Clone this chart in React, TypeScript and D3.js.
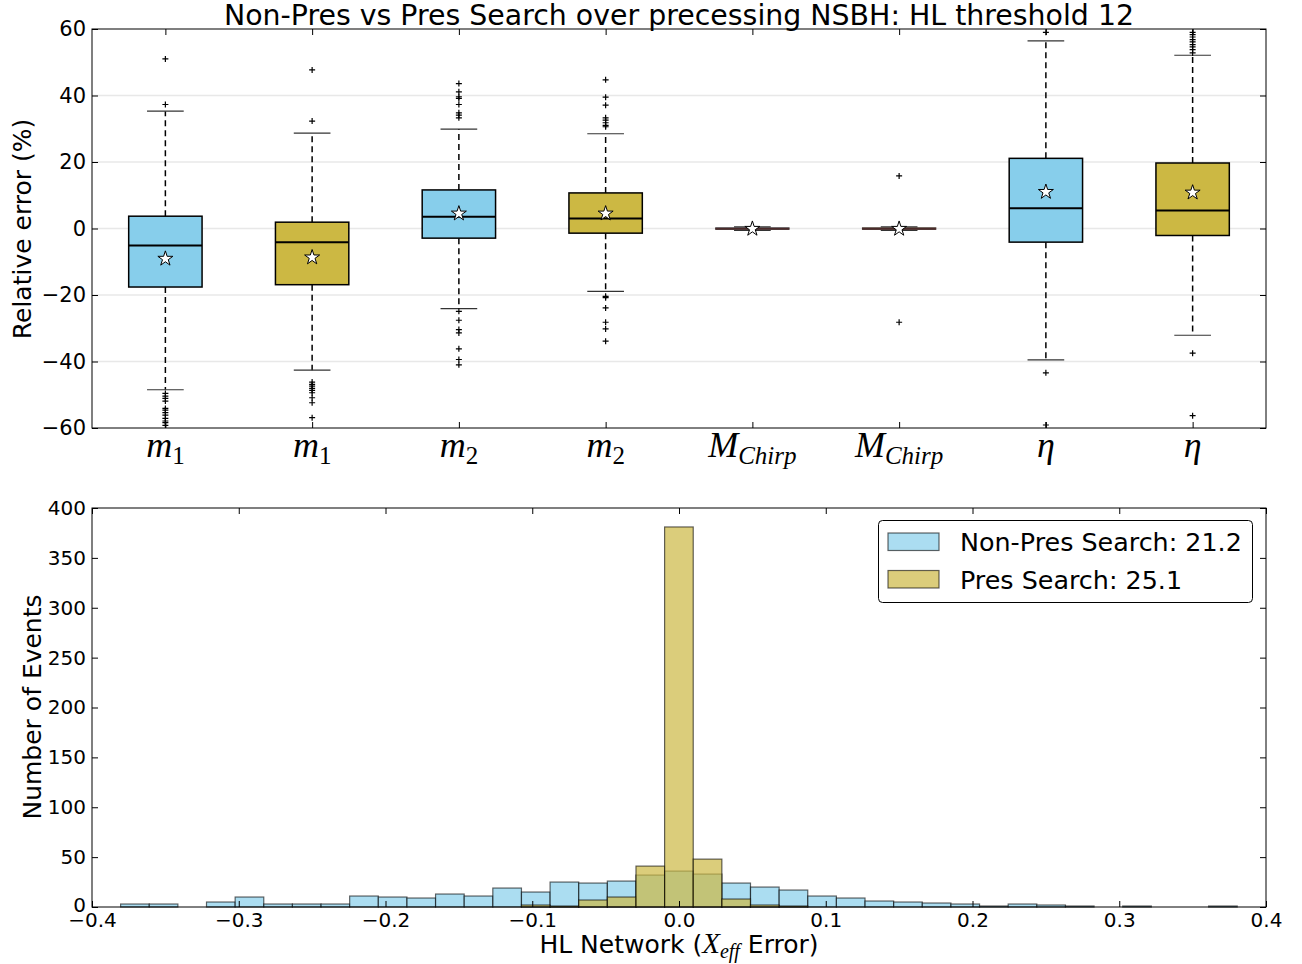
import React, { useEffect, useRef } from 'react'
import * as d3 from 'd3'

// box plot (relative error, %)
const boxLabelMain = ['m', 'm', 'm', 'm', 'M', 'M', 'η', 'η']
const boxLabelSub = ['1', '1', '2', '2', 'Chirp', 'Chirp', '', '']
const boxSearch = ['non', 'pres', 'non', 'pres', 'non', 'pres', 'non', 'pres']
const boxQ1 = [-17.6, -16.9, -2.9, -1.4, -0.25, -0.25, -4.1, -2.1]
const boxMedian = [-5.1, -4.1, 3.5, 3.0, -0.05, -0.05, 6.1, 5.4]
const boxQ3 = [3.7, 1.9, 11.6, 10.7, 0.2, 0.2, 21.1, 19.7]
const whiskerLow = [-48.5, -42.6, -24.1, -18.9, -0.6, -0.6, -39.5, -32.1]
const whiskerHigh = [35.3, 28.7, 29.9, 28.5, 0.5, 0.5, 56.4, 52.1]
const boxMean = [-9.1, -8.7, 4.5, 4.5, -0.1, -0.1, 11.0, 10.8]
const boxOutliers = [
  [51.0, 37.3, -49.6, -50.4, -51.1, -51.9, -54.1, -54.6, -55.4, -56.1, -57.1, -57.9, -58.4, -59.2],
  [47.7, 32.3, -46.2, -46.9, -47.4, -48.1, -48.7, -49.4, -50.9, -52.4, -56.9],
  [43.6, 41.1, 39.6, 39.1, 37.3, 34.8, 34.1, 33.3, -24.9, -27.6, -30.4, -31.4, -36.2, -39.4, -41.0],
  [44.7, 39.5, 37.1, 33.3, 32.6, 31.8, 31.0, 30.6, -20.4, -20.8, -23.9, -28.2, -30.2, -33.9],
  [],
  [15.8, -28.2],
  [59.0, -43.4, -59.1],
  [59.0, 58.3, 57.6, 56.8, 56.1, 55.3, 54.6, 53.8, 52.8, -37.5, -56.3],
]
const yTicksTop = [-60, -40, -20, 0, 20, 40, 60]
const gridTop = [-40, -20, 0, 20, 40]

// histogram of X_eff error
const histBinStart = -0.3805
const histBinWidth = 0.01951
const nonPresCounts = [3, 3, 0, 5, 10, 3, 3, 3, 11, 10, 9, 13, 11, 19, 15, 25, 24, 26, 32, 36,
  33, 24, 20, 17, 11, 9, 6, 5, 4, 3, 1, 3, 2, 1, 0, 1, 0, 0, 1]
const presCounts = [0, 0, 0, 0, 0, 0, 0, 0, 0, 0, 0, 0, 0, 0, 2, 1, 7, 10, 41, 381,
  48, 8, 2, 1, 0, 0, 0, 0, 0, 0, 0, 0, 0, 0, 0, 0, 0, 0, 0]
const legendLabels = ['Non-Pres Search: 21.2', 'Pres Search: 25.1']
const yTicksHist = [0, 50, 100, 150, 200, 250, 300, 350, 400]
const xTicksHist = [-0.4, -0.3, -0.2, -0.1, 0, 0.1, 0.2, 0.3, 0.4]

const colors = { non: '#87CEEB', pres: '#CCB843' }
const sans = '"DejaVu Sans", sans-serif'
const serif = '"Liberation Serif", serif'

const App = () => {
  const ref = useRef<SVGSVGElement>(null)

  useEffect(() => {
    const svg = d3.select(ref.current)
    svg.selectAll('*').remove()

    const left = 92
    const right = 1266

    // ---------- top: box plot ----------
    const top = { y0: 29, y1: 428 }
    const x = d3.scaleLinear().domain([0.5, 8.5]).range([left, right])
    const y = d3.scaleLinear().domain([-60, 60]).range([top.y1, top.y0])

    svg.append('defs').append('clipPath').attr('id', 'clipTop')
      .append('rect').attr('x', left).attr('y', top.y0)
      .attr('width', right - left).attr('height', top.y1 - top.y0)

    const gTop = svg.append('g')

    gTop.selectAll('.grid').data(gridTop).enter().append('line')
      .attr('x1', left).attr('x2', right)
      .attr('y1', d => y(d)).attr('y2', d => y(d))
      .attr('stroke', '#e8e8e8').attr('stroke-width', 1.5)

    const plot = gTop.append('g').attr('clip-path', 'url(#clipTop)')
    const half = x(1.25) - x(1)
    const capHalf = x(1.125) - x(1)

    boxQ1.forEach((q1, i) => {
      const cx = x(i + 1)
      const g = plot.append('g')
      g.append('line').attr('x1', cx).attr('x2', cx)
        .attr('y1', y(boxQ3[i])).attr('y2', y(whiskerHigh[i]))
        .attr('stroke', '#000').attr('stroke-width', 1.5).attr('stroke-dasharray', '6,4')
      g.append('line').attr('x1', cx).attr('x2', cx)
        .attr('y1', y(q1)).attr('y2', y(whiskerLow[i]))
        .attr('stroke', '#000').attr('stroke-width', 1.5).attr('stroke-dasharray', '6,4')
      ;[whiskerHigh[i], whiskerLow[i]].forEach(w => {
        g.append('line').attr('x1', cx - capHalf).attr('x2', cx + capHalf)
          .attr('y1', y(w)).attr('y2', y(w))
          .attr('stroke', '#333').attr('stroke-width', 1.2)
      })
      const flat = y(q1) - y(boxQ3[i]) < 3
      g.append('rect')
        .attr('x', cx - half).attr('width', half * 2)
        .attr('y', y(boxQ3[i])).attr('height', Math.max(0.5, y(q1) - y(boxQ3[i])))
        .attr('fill', colors[boxSearch[i]])
        .attr('stroke', flat ? '#3a2a2a' : '#000').attr('stroke-width', flat ? 1 : 1.5)
      g.append('line').attr('x1', cx - half).attr('x2', cx + half)
        .attr('y1', y(boxMedian[i])).attr('y2', y(boxMedian[i]))
        .attr('stroke', flat ? '#4a2a2a' : '#000').attr('stroke-width', flat ? 1.5 : 2)
      boxOutliers[i].forEach(o => {
        g.append('path')
          .attr('d', `M${cx - 3},${y(o)}H${cx + 3}M${cx},${y(o) - 3}V${y(o) + 3}`)
          .attr('stroke', '#000').attr('stroke-width', 1.2)
      })
      g.append('path')
        .attr('transform', `translate(${cx},${y(boxMean[i])})`)
        .attr('d', d3.symbol().type(d3.symbolStar).size(70)())
        .attr('fill', '#fff').attr('stroke', '#000').attr('stroke-width', 1)
    })

    const axTop = svg.append('g').attr('font-family', sans)
    axTop.append('g').attr('transform', `translate(${left},0)`)
      .call(d3.axisLeft(y).tickValues(yTicksTop).tickSizeInner(-6).tickSizeOuter(0).tickPadding(6))
      .call(g => g.select('.domain').remove())
      .call(g => g.selectAll('text').attr('font-size', 21).attr('fill', '#000').attr('font-family', sans))
    axTop.append('g').attr('transform', `translate(${right},0)`)
      .call(d3.axisRight(y).tickValues(yTicksTop).tickSizeInner(-6).tickSizeOuter(0).tickFormat(() => ''))
      .call(g => g.select('.domain').remove())
    axTop.append('g').attr('transform', `translate(0,${top.y1})`)
      .call(d3.axisBottom(x).tickValues(d3.range(1, 9)).tickSizeInner(-6).tickSizeOuter(0).tickFormat(() => ''))
      .call(g => g.select('.domain').remove())
    axTop.append('g').attr('transform', `translate(0,${top.y0})`)
      .call(d3.axisTop(x).tickValues(d3.range(1, 9)).tickSizeInner(-6).tickSizeOuter(0).tickFormat(() => ''))
      .call(g => g.select('.domain').remove())
    svg.append('rect').attr('x', left).attr('y', top.y0)
      .attr('width', right - left).attr('height', top.y1 - top.y0)
      .attr('fill', 'none').attr('stroke', '#000').attr('stroke-width', 1)

    boxLabelMain.forEach((m, i) => {
      const t = svg.append('text')
        .attr('x', x(i + 1)).attr('y', 457)
        .attr('text-anchor', 'middle')
        .attr('font-family', serif).attr('font-style', 'italic')
        .attr('font-size', 36)
      t.append('tspan').text(m)
      if (boxLabelSub[i]) {
        t.append('tspan').attr('dy', 7).attr('font-size', 25)
          .attr('font-style', boxLabelSub[i] === 'Chirp' ? 'italic' : 'normal')
          .text(boxLabelSub[i])
      }
    })

    svg.append('text').attr('x', 679).attr('y', 25)
      .attr('text-anchor', 'middle').attr('font-family', sans).attr('font-size', 28.4)
      .text('Non-Pres vs Pres Search over precessing NSBH: HL threshold 12')

    svg.append('text').attr('transform', 'translate(31,229) rotate(-90)')
      .attr('text-anchor', 'middle').attr('font-family', sans).attr('font-size', 25)
      .text('Relative error (%)')

    // ---------- bottom: histogram ----------
    const bot = { y0: 508, y1: 907 }
    const xh = d3.scaleLinear().domain([-0.4, 0.4]).range([left, right])
    const yh = d3.scaleLinear().domain([0, 400]).range([bot.y1, bot.y0])

    const drawHist = (counts: number[], color: string) => {
      svg.append('g').selectAll('rect')
        .data(counts.map((c, i) => ({ c, x0: histBinStart + i * histBinWidth })).filter(d => d.c > 0))
        .enter().append('rect')
        .attr('x', d => xh(d.x0)).attr('width', d => xh(d.x0 + histBinWidth) - xh(d.x0))
        .attr('y', d => yh(d.c)).attr('height', d => yh(0) - yh(d.c))
        .attr('fill', color).attr('fill-opacity', 0.7)
        .attr('stroke', '#000').attr('stroke-opacity', 0.6).attr('stroke-width', 1.2)
    }
    drawHist(nonPresCounts, colors.non)
    drawHist(presCounts, colors.pres)

    const axBot = svg.append('g')
    axBot.append('g').attr('transform', `translate(${left},0)`)
      .call(d3.axisLeft(yh).tickValues(yTicksHist).tickSizeInner(-6).tickSizeOuter(0).tickPadding(6))
      .call(g => g.select('.domain').remove())
      .call(g => g.selectAll('text').attr('font-size', 20).attr('fill', '#000').attr('font-family', sans))
      .call(g => g.selectAll('text').filter(d => d === 0).attr('dy', '0.2em'))
    axBot.append('g').attr('transform', `translate(${right},0)`)
      .call(d3.axisRight(yh).tickValues(yTicksHist).tickSizeInner(-6).tickSizeOuter(0).tickFormat(() => ''))
      .call(g => g.select('.domain').remove())
    axBot.append('g').attr('transform', `translate(0,${bot.y1})`)
      .call(d3.axisBottom(xh).tickValues(xTicksHist).tickSizeInner(-6).tickSizeOuter(0).tickPadding(6)
        .tickFormat(d3.format('.1f')))
      .call(g => g.select('.domain').remove())
      .call(g => g.selectAll('text').attr('font-size', 20).attr('fill', '#000').attr('font-family', sans))
    axBot.append('g').attr('transform', `translate(0,${bot.y0})`)
      .call(d3.axisTop(xh).tickValues(xTicksHist).tickSizeInner(-6).tickSizeOuter(0).tickFormat(() => ''))
      .call(g => g.select('.domain').remove())
    svg.selectAll('.tick line').attr('stroke', '#000')
    svg.append('rect').attr('x', left).attr('y', bot.y0)
      .attr('width', right - left).attr('height', bot.y1 - bot.y0)
      .attr('fill', 'none').attr('stroke', '#000').attr('stroke-width', 1)

    svg.append('text').attr('transform', 'translate(41,707) rotate(-90)')
      .attr('text-anchor', 'middle').attr('font-family', sans).attr('font-size', 25)
      .text('Number of Events')

    const xl = svg.append('text').attr('x', 679).attr('y', 953)
      .attr('text-anchor', 'middle').attr('font-family', sans).attr('font-size', 25)
    xl.append('tspan').text('HL Network (')
    xl.append('tspan').attr('font-family', serif).attr('font-style', 'italic')
      .attr('font-size', 29).text('X')
    xl.append('tspan').attr('font-family', serif).attr('font-style', 'italic')
      .attr('font-size', 20).attr('dy', 5).text('eff')
    xl.append('tspan').attr('dy', -5).text(' Error)')

    // legend
    const lg = svg.append('g')
    lg.append('rect').attr('x', 878.5).attr('y', 520.5).attr('width', 374).attr('height', 82)
      .attr('rx', 4).attr('fill', '#fff').attr('stroke', '#000').attr('stroke-width', 1)
    legendLabels.forEach((label, i) => {
      const yy = 533 + i * 37.5
      lg.append('rect').attr('x', 888).attr('y', yy).attr('width', 51).attr('height', 17.5)
        .attr('fill', i === 0 ? colors.non : colors.pres).attr('fill-opacity', 0.7)
        .attr('stroke', '#000').attr('stroke-opacity', 0.6).attr('stroke-width', 1.2)
      lg.append('text').attr('x', 960).attr('y', yy + 18)
        .attr('font-family', sans).attr('font-size', 25.4).text(label)
    })
  }, [])

  return (
    <svg ref={ref} width={1302} height={964}
      style={{ position: 'absolute', left: 0, top: 0, background: '#fff' }} />
  )
}

export default App
